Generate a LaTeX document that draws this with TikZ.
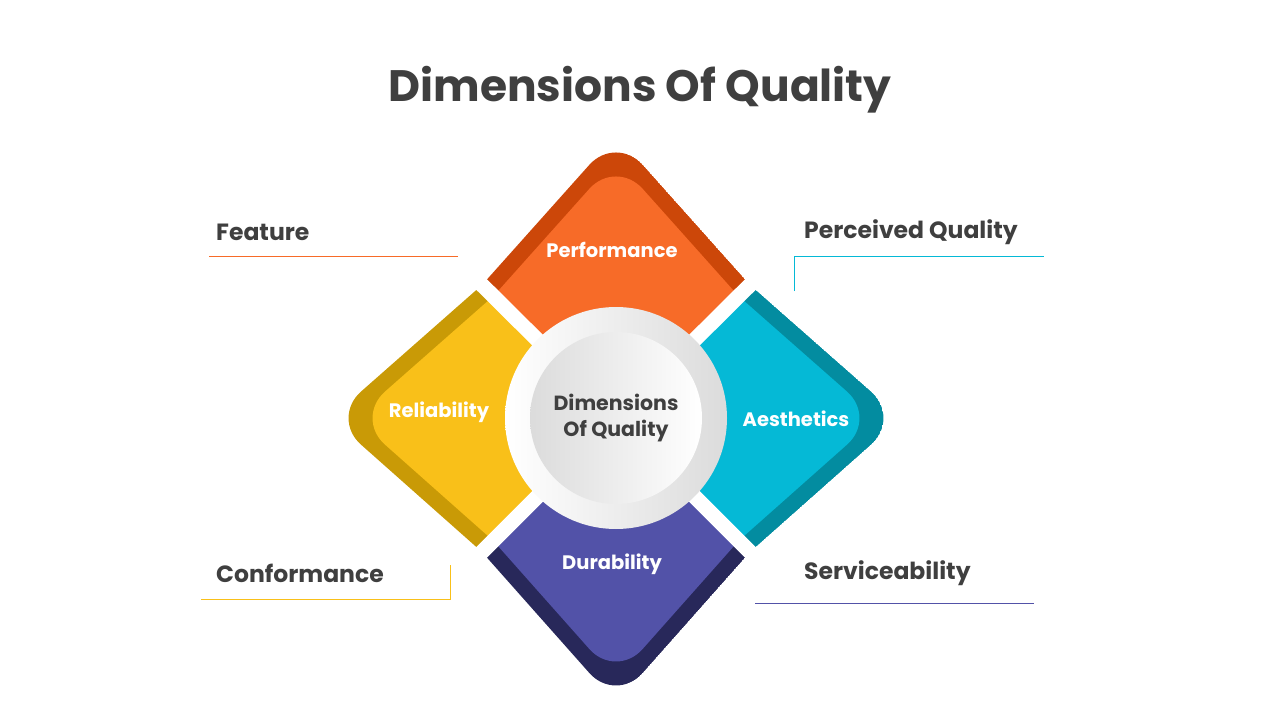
\documentclass[tikz,border=0pt]{standalone}
\usepackage{fontspec}
\setmainfont{Poppins}
\begin{document}
\begin{tikzpicture}[x=1pt,y=-1pt]
\definecolor{txt}{HTML}{3F3F3F}
\definecolor{orL}{HTML}{F76B28}\definecolor{orD}{HTML}{CC4709}
\definecolor{yeL}{HTML}{F9C019}\definecolor{yeD}{HTML}{C99A06}
\definecolor{teL}{HTML}{05B9D6}\definecolor{teD}{HTML}{038CA0}
\definecolor{puL}{HTML}{5252A8}\definecolor{puD}{HTML}{28285A}
\tikzset{
 side/.style={font=\fontsize{23.5}{28}\selectfont\bfseries, text=txt, anchor=west, inner sep=0},
 inlab/.style={font=\fontsize{19.5}{23}\selectfont\bfseries, text=white, inner sep=0},
 lead/.style={line width=1pt}
}
\useasboundingbox (0,0) rectangle (1280,720);
\newcommand{\piece}[6]{%
 \begin{scope}
 \clip (#2) [rounded corners=40pt] -- (#1) [sharp corners] -- (#3) -- (616,418) -- cycle;
 \fill[#4] (#2) [rounded corners=40pt] -- (#1) [sharp corners] -- (#3) -- (616,418) -- cycle;
 \begin{scope}[shift={(#6)}]
 \fill[#5] (#2) [rounded corners=40pt] -- (#1) [sharp corners] -- (#3) -- (616,418) -- cycle;
 \end{scope}
 \end{scope}}
\piece{616,135}{482,285}{750,285}{orD}{orL}{0,24}
\piece{331,418}{482,285}{482,552}{yeD}{yeL}{24,0}
\piece{901,418}{750,285}{750,552}{teD}{teL}{-24,0}
\piece{616,703}{482,552}{750,552}{puD}{puL}{0,-24}
\foreach \p in {{468,271},{764,271},{468,566},{764,566}}
 \draw[white,line width=15pt] (616,418) -- (\p);
\shade[left color=white,right color=black!14] (616,418) circle (111);
\shade[left color=black!14,right color=white] (616,418) circle (86);
\node[font=\fontsize{44}{50}\selectfont\bfseries, text=txt] (title) at (640,90) {Dimensions Of Quality};
\node[font=\fontsize{20.5}{26}\selectfont\bfseries, text=txt, align=center] (ctr) at (616,418) {Dimensions\\Of Quality};
\node[inlab] (perf) at (612,250) {Performance};
\node[inlab] (rel) at (439,412) {Reliability};
\node[inlab] (aes) at (796,419) {Aesthetics};
\node[inlab] (dur) at (612,564) {Durability};
\node[side] (fea) at (216,232) {Feature};
\node[side] (pq) at (804,232) {Perceived Quality};
\node[side] (con) at (216,573) {Conformance};
\node[side] (ser) at (804,573) {Serviceability};
\coordinate (f1) at (209,256); \coordinate (f2) at (458,256);
\draw[lead,orL] (f1) -- (f2);
\coordinate (p1) at (794,291); \coordinate (p2) at (794,256); \coordinate (p3) at (1044,256);
\draw[lead,teL] (p1) -- (p2) -- (p3);
\coordinate (c1) at (201,599); \coordinate (c2) at (450,599); \coordinate (c3) at (450,565);
\draw[lead,yeL] (c1) -- (c2) -- (c3);
\coordinate (s1) at (755,603); \coordinate (s2) at (1034,603);
\draw[lead,puL] (s1) -- (s2);
\end{tikzpicture}
\end{document}
